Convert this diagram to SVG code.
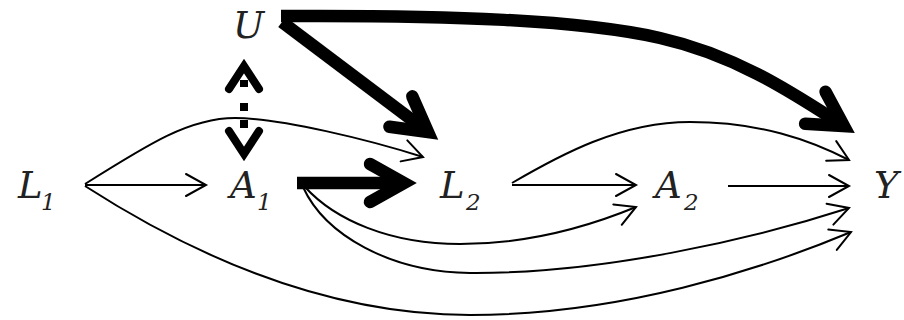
<svg xmlns="http://www.w3.org/2000/svg" width="904" height="320" viewBox="0 0 904 320">
<style>
.lbl{font-family:"DejaVu Serif","Liberation Serif",serif;font-style:italic;font-size:37px;fill:#222}
.sub{font-family:"DejaVu Serif","Liberation Serif",serif;font-style:italic;font-size:23px;fill:#222}
.thin{fill:none;stroke:#000;stroke-width:2;marker-end:url(#hThin)}
.thick{fill:none;stroke:#000;stroke-width:12.5;stroke-linecap:butt;marker-end:url(#hThick)}
.dash{fill:none;stroke:#000;stroke-width:8;stroke-dasharray:0 14 7 16 8 9 8 100;marker-start:url(#hDash);marker-end:url(#hDash)}
</style>
<defs>
<marker id="hThin" markerUnits="userSpaceOnUse" orient="auto" refX="0" refY="0" markerWidth="30" markerHeight="30" overflow="visible">
<path d="M-20,-11 L0,0 L-20,11" fill="none" stroke="#000" stroke-width="2" stroke-linejoin="miter" stroke-linecap="round"/>
</marker>
<marker id="hThick" markerUnits="userSpaceOnUse" orient="auto" refX="0" refY="0" markerWidth="60" markerHeight="60" overflow="visible">
<path d="M-34,-19 L0,0 L-34,19" fill="none" stroke="#000" stroke-width="12.5" stroke-linejoin="miter" stroke-linecap="round"/>
</marker>
<marker id="hDash" markerUnits="userSpaceOnUse" orient="auto-start-reverse" refX="0" refY="0" markerWidth="40" markerHeight="40" overflow="visible">
<path d="M-23,-15 L0,0 L-23,15" fill="none" stroke="#000" stroke-width="8" stroke-linejoin="miter" stroke-linecap="round"/>
</marker>
</defs>
<g id="connectors">
<path class="thin" d="M85,185 H206"/>
<path class="thin" d="M85,184 C150,143 190,118 235,118 S370,140 423,157"/>
<path class="thin" d="M85,186 C200,260 330,315 470,315 C620,315 760,270 851,232"/>
<path class="thin" d="M305,187 C335,220 390,244 460,244 C530,244 590,226 636,207"/>
<path class="thin" d="M303,187 C325,235 390,272 470,273 C600,274 750,240 849,208"/>
<path class="thin" d="M512,185 H636"/>
<path class="thin" d="M512,183 C560,155 620,122 690,122 C760,122 810,140 849,160"/>
<path class="thin" d="M728,186 H849"/>
<path class="thick" d="M297,183 H404"/>
<path class="thick" d="M282,22 L428,132"/>
<path class="thick" d="M281,16 C450,15 580,20 660,38 C740,56 800,98 844,126"/>
<path class="dash" d="M244,66 V154"/>
</g>
<g id="U"><text class="lbl" x="233" y="38">U</text></g>
<g id="L1"><text class="lbl" x="18" y="198">L</text><text class="sub" x="41" y="210">1</text></g>
<g id="A1"><text class="lbl" x="230" y="198">A</text><text class="sub" x="257" y="210">1</text></g>
<g id="L2"><text class="lbl" x="440" y="198">L</text><text class="sub" x="466" y="210">2</text></g>
<g id="A2"><text class="lbl" x="655" y="198">A</text><text class="sub" x="684" y="210">2</text></g>
<g id="Y"><text class="lbl" x="874" y="198">Y</text></g>
</svg>
